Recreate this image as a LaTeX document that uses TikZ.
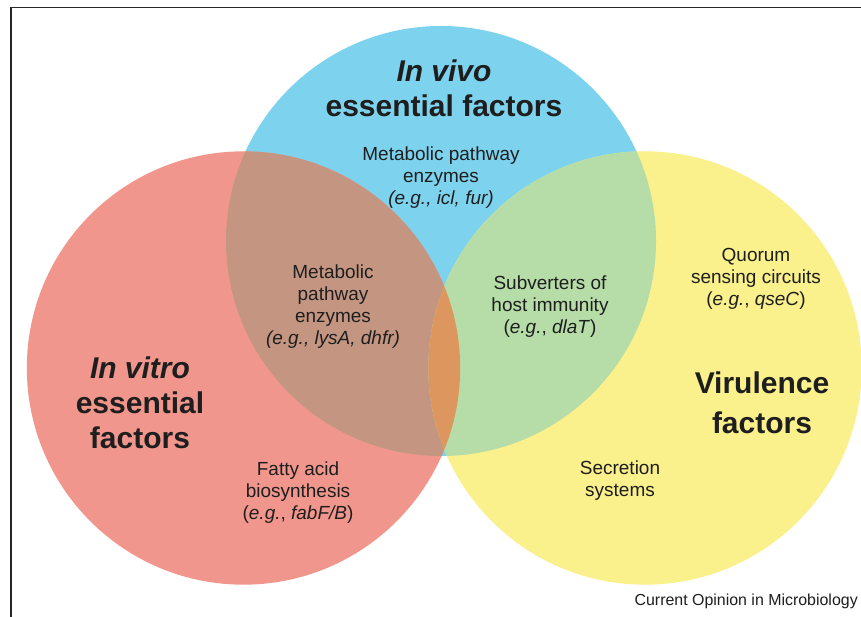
\documentclass[tikz,border=0pt]{standalone}
\usepackage{fontspec}
\setmainfont{Liberation Sans}
\usepackage{xcolor}
\usepackage{tikz}
\usetikzlibrary{positioning}

\definecolor{vivoblue}{HTML}{7DD3EE}
\definecolor{vitrored}{HTML}{F1968C}
\definecolor{viruyellow}{HTML}{FAF08C}
\definecolor{brownmix}{HTML}{C49682}
\definecolor{greenmix}{HTML}{B6DCA8}
\definecolor{orangemix}{HTML}{DE965F}
\definecolor{inkgray}{HTML}{1E1E1E}

\begin{document}
\begin{tikzpicture}[x=0.03cm, y=-0.03cm, text=inkgray,
  label/.style={align=center, inner sep=0pt,
                font=\fontsize{16.2}{18.8}\selectfont},
  title/.style={align=center, inner sep=0pt,
                font=\fontsize{25.6}{30}\selectfont\bfseries}]
  \useasboundingbox (0,0) rectangle (861,617);
  \fill[white] (0,0) rectangle (861,617);
  % frame (top and left only)
  \draw[line width=1.2pt, black!85] (11,617) -- (11,7.5) -- (861,7.5);
  % circle centres
  \coordinate (vitro) at (243.5,368);
  \coordinate (vivo)  at (441,241);
  \coordinate (viru)  at (645,368);
  % circles
  \fill[vivoblue]   (vivo)  circle (6.45cm);
  \fill[vitrored]   (vitro) circle (6.5cm);
  \fill[viruyellow] (viru)  circle (6.5cm);
  % overlaps
  \begin{scope}
    \clip (vitro) circle (6.5cm);
    \fill[brownmix] (vivo) circle (6.45cm);
  \end{scope}
  \begin{scope}
    \clip (viru) circle (6.5cm);
    \fill[greenmix] (vivo) circle (6.45cm);
  \end{scope}
  \begin{scope}
    \clip (vitro) circle (6.5cm);
    \fill[orangemix] (viru) circle (6.5cm);
  \end{scope}
  % titles
  \node[title] (vivotitle) at (444,88) {\textit{In vivo}\\ essential factors};
  \node[title] (vitrotitle) at (140,403) {\textit{In vitro}\\ essential\\ factors};
  \node[title, font=\fontsize{25.6}{34}\selectfont\bfseries] (virutitle) at (762,403) {Virulence\\ factors};
  % region labels
  \node[label] (vivolab) at (441,178) {Metabolic pathway\\ enzymes\\ \textit{(e.g., icl, fur)}};
  \node[label] (bothlab) at (333,307) {Metabolic\\ pathway\\ enzymes\\ \textit{(e.g., lysA, dhfr)}};
  \node[label] (hostlab) at (550,307) {Subverters of\\ host immunity\\ (\textit{e.g.}, \textit{dlaT})};
  \node[label] (quorlab) at (756,279) {Quorum\\ sensing circuits\\ (\textit{e.g.}, \textit{qseC})};
  \node[label] (fattylab) at (298,493) {Fatty acid\\ biosynthesis\\ (\textit{e.g.}, \textit{fabF/B})};
  \node[label] (secrlab) at (620,481) {Secretion\\ systems};
  % journal credit
  \node[anchor=east, inner sep=0pt, font=\fontsize{13.6}{16}\selectfont] (credit) at (858,601) {Current Opinion in Microbiology};
\end{tikzpicture}
\end{document}
